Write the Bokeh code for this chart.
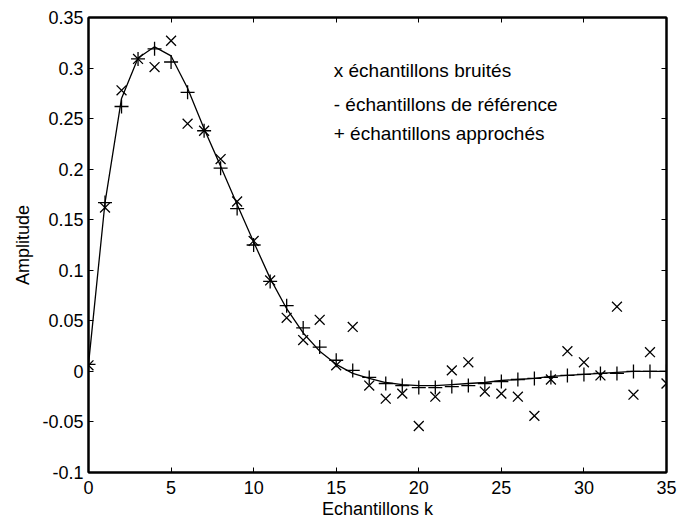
from bokeh.plotting import figure
from bokeh.models import FixedTicker, LinearAxis, Range1d, Label
from bokeh.embed import file_html
from bokeh.resources import INLINE

k = list(range(36))
noisy = [0.006, 0.162, 0.278, 0.309, 0.301, 0.327, 0.245, 0.238, 0.210, 0.168,
         0.129, 0.090, 0.053, 0.031, 0.051, 0.006, 0.044, -0.014, -0.027, -0.022,
         -0.054, -0.025, 0.001, 0.009, -0.020, -0.022, -0.025, -0.044, -0.008, 0.020,
         0.009, -0.004, 0.064, -0.023, 0.019, -0.012]
reference = [0.007, 0.167, 0.270, 0.310, 0.321, 0.312, 0.280, 0.240, 0.203, 0.165,
             0.128, 0.092, 0.062, 0.038, 0.020, 0.007, -0.002, -0.007, -0.011, -0.013,
             -0.014, -0.014, -0.013, -0.012, -0.011, -0.009, -0.008, -0.007, -0.005, -0.004,
             -0.003, -0.002, -0.001, 0.0, 0.0, 0.0]
approx = [0.007, 0.167, 0.262, 0.309, 0.319, 0.306, 0.276, 0.238, 0.201, 0.161,
          0.125, 0.089, 0.065, 0.043, 0.024, 0.011, 0.001, -0.006, -0.012, -0.014,
          -0.016, -0.016, -0.015, -0.014, -0.012, -0.010, -0.008, -0.007, -0.006, -0.004,
          -0.003, -0.002, -0.002, 0.0, 0.0, 0.0]

x_ticks = [0, 5, 10, 15, 20, 25, 30, 35]
y_ticks = [-0.1, -0.05, 0, 0.05, 0.1, 0.15, 0.2, 0.25, 0.3, 0.35]
y_tick_labels = ["-0.1", "-0.05", "0", "0.05", "0.1", "0.15", "0.2", "0.25", "0.3", "0.35"]
legend_lines = ["x échantillons bruités", "- échantillons de référence", "+ échantillons approchés"]

FONT = "Liberation Sans"
FS = "18px"
LFS = "19px"

p = figure(width=679, height=528, output_backend="svg", toolbar_location=None,
           x_range=Range1d(0, 35), y_range=Range1d(-0.1, 0.35),
           min_border_left=88, min_border_right=13, min_border_top=17, min_border_bottom=56)
p.grid.visible = False
p.outline_line_color = "black"
p.outline_line_width = 2
p.background_fill_color = "white"
p.border_fill_color = "white"

p.line(k, reference, line_color="black", line_width=1.3)
p.scatter(k, noisy, marker="x", size=14, line_color="black", line_width=1.3)
p.scatter(k, approx, marker="cross", size=14, line_color="black", line_width=1.3)

def style(ax):
    ax.major_tick_in = 5
    ax.major_tick_out = 0
    ax.minor_tick_in = 0
    ax.minor_tick_out = 0
    ax.axis_line_color = "black"
    ax.axis_line_width = 2
    ax.major_tick_line_color = "black"
    ax.major_tick_line_width = 1
    ax.major_label_text_font = FONT
    ax.major_label_text_font_size = FS
    ax.major_label_text_color = "black"
    ax.axis_label_text_font = FONT
    ax.axis_label_text_font_size = FS
    ax.axis_label_text_font_style = "normal"
    ax.axis_label_text_color = "black"

xa = p.xaxis[0]
xa.ticker = FixedTicker(ticks=x_ticks)
xa.axis_label = "Echantillons k"
xa.axis_label_standoff = 2
xa.major_label_standoff = 8
style(xa)

ya = p.yaxis[0]
ya.ticker = FixedTicker(ticks=y_ticks)
ya.major_label_overrides = {t: s for t, s in zip(y_ticks, y_tick_labels)}
ya.axis_label = "Amplitude"
ya.axis_label_standoff = 6
ya.major_label_standoff = 5
style(ya)

top = LinearAxis(ticker=FixedTicker(ticks=x_ticks))
style(top)
top.major_label_overrides = {t: "" for t in x_ticks}
top.major_label_standoff = 0
p.add_layout(top, "above")
right = LinearAxis(ticker=FixedTicker(ticks=y_ticks))
style(right)
right.major_label_overrides = {t: "" for t in y_ticks}
right.major_label_standoff = 0
p.add_layout(right, "right")

for txt, yv in zip(legend_lines, [0.298, 0.264, 0.235]):
    p.add_layout(Label(x=14.85, y=yv, text=txt, text_font=FONT, text_font_size=LFS,
                       text_color="black", text_baseline="middle", text_align="left"))

open("out.html", "w").write(file_html(p, INLINE))
